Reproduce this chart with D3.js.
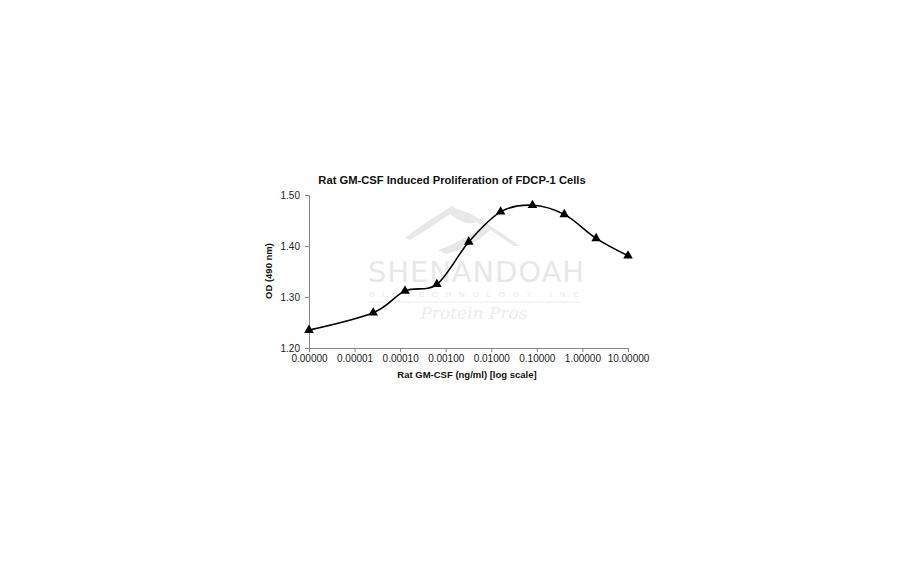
<!DOCTYPE html>
<html>
<head>
<meta charset="utf-8">
<script src="https://cdn.jsdelivr.net/npm/d3@7"></script>
<style>
  body{margin:0;background:#fff;}
  svg{display:block;font-family:"Liberation Sans",Arial,sans-serif;}
</style>
</head>
<body>
<svg id="chart" width="912" height="562"></svg>
<script>
// 5-fold dilution series, the zero dose is plotted at the first log tick
const dose = [0.000001, 0.0000256, 0.000128, 0.00064, 0.0032, 0.016, 0.08, 0.4, 2, 10];
const od   = [1.235, 1.269, 1.312, 1.325, 1.408, 1.467, 1.480, 1.462, 1.415, 1.381];
const xTicks = [0.000001, 0.00001, 0.0001, 0.001, 0.01, 0.1, 1, 10];
const xTickLabels = ["0.00000","0.00001","0.00010","0.00100","0.01000","0.10000","1.00000","10.00000"];
const yTicks = [1.20, 1.30, 1.40, 1.50];

const svg = d3.select("#chart");
const axisColor = "#868686";

let x = d3.scaleLog().domain([0.000001, 10]).range([309, 628]);
let y = d3.scaleLinear().domain([1.20, 1.50]).range([348, 195]);

// faint watermark
let wm = svg.append("g").attr("fill","#e8e8e8").attr("stroke","none");
wm.append("path")
  .attr("d","M405,238 C425,222 440,214 452,206 C460,212 466,210 474,216 C486,222 500,232 520,246 L514,246 C500,236 488,228 476,222 C468,226 458,220 450,214 C438,222 424,232 410,240 Z");
wm.append("path")
  .attr("d","M438,250 C455,244 470,236 482,226 L490,230 C478,242 462,250 446,254 Z");
wm.append("text").attr("x",476).attr("y",282).attr("text-anchor","middle")
  .attr("font-size",29).attr("font-family","'DejaVu Sans',sans-serif").attr("textLength",216)
  .text("SHENANDOAH");
wm.append("text").attr("x",474).attr("y",297).attr("text-anchor","middle")
  .attr("font-size",8).attr("textLength",210).attr("lengthAdjust","spacing")
  .text("BIOTECHNOLOGY INC");
wm.append("line").attr("x1",368).attr("x2",580).attr("y1",302).attr("y2",302)
  .attr("stroke","#ececec").attr("stroke-width",1);
wm.append("text").attr("x",474).attr("y",319).attr("text-anchor","middle")
  .attr("font-size",17).attr("font-style","italic").attr("font-family","'DejaVu Serif',serif")
  .attr("fill","#ececec")
  .text("Protein Pros");

// axes
let yAxis = svg.append("g").attr("transform","translate(309,0)")
  .call(d3.axisLeft(y).tickValues(yTicks).tickFormat(d3.format(".2f")).tickSizeOuter(0).tickSize(4).tickPadding(5));
let xAxis = svg.append("g").attr("transform","translate(0,348)")
  .call(d3.axisBottom(x).tickValues(xTicks).tickFormat((d,i)=>xTickLabels[i]).tickSizeOuter(0).tickSize(4).tickPadding(3));

[xAxis, yAxis].forEach(a=>{
  a.select(".domain").attr("stroke",axisColor);
  a.selectAll(".tick line").attr("stroke",axisColor);
  a.selectAll(".tick text").attr("fill","#222").attr("font-size",10)
    .attr("font-family","'Liberation Sans',Arial,sans-serif");
});

// curve
let pts = dose.map((d,i)=>[x(d), y(od[i])]);
svg.append("path")
  .attr("d", d3.line().curve(d3.curveCardinal.tension(0))(pts))
  .attr("fill","none").attr("stroke","#000").attr("stroke-width",1.6);

svg.append("g").selectAll("path").data(pts).join("path")
  .attr("transform", d=>"translate("+d[0]+","+d[1]+")")
  .attr("d", d3.symbol().type(d3.symbolTriangle).size(40))
  .attr("fill","#000");

// titles
svg.append("text").attr("x",452).attr("y",184).attr("text-anchor","middle")
  .attr("font-size",11.2).attr("font-weight","bold").attr("fill","#111")
  .text("Rat GM-CSF Induced Proliferation of FDCP-1 Cells");
svg.append("text").attr("x",467).attr("y",378).attr("text-anchor","middle")
  .attr("font-size",9.5).attr("font-weight","bold").attr("fill","#111")
  .text("Rat GM-CSF (ng/ml) [log scale]");
svg.append("text").attr("transform","translate(272,271) rotate(-90)").attr("text-anchor","middle")
  .attr("font-size",9.5).attr("font-weight","bold").attr("fill","#111")
  .text("OD (490 nm)");
</script>
</body>
</html>
